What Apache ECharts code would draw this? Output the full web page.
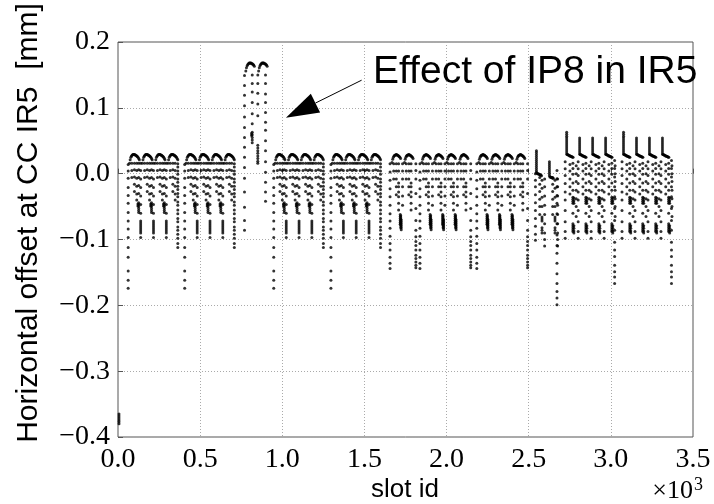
<!DOCTYPE html>
<html><head><meta charset="utf-8">
<script src="https://cdn.jsdelivr.net/npm/echarts@6/dist/echarts.min.js"></script>
<style>html,body{margin:0;padding:0;background:#fff}#c{width:714px;height:504px}</style>
</head><body><div id="c"></div>
<script>
// ================= DATA (x = slot id, y = horizontal offset in mm) =================
const xTicks = [0, 500, 1000, 1500, 2000, 2500, 3000, 3500];
const xTickLabels = ['0.0', '0.5', '1.0', '1.5', '2.0', '2.5', '3.0', '3.5'];
const yTicks = [-0.4, -0.3, -0.2, -0.1, 0.0, 0.1, 0.2];
const yTickLabels = ['\u22120.4', '\u22120.3', '\u22120.2', '\u22120.1', '0.0', '0.1', '0.2'];

// isolated pilot bunch near slot 0
const pilotSlot = [6];
const pilotOffsets = [-0.365, -0.368, -0.371, -0.374, -0.377, -0.380];

// --- standard 4-batch trains (top at +0.028, lead column down to -0.175) ---
const stdTrainLead = [62, 406, 948, 1296];
const stdTrainBatches = [4, 4, 4, 4];
const stdBatchSpacing = 78;
const stdCapOffset = 8;
const stdTailDx = 60;
const stdLead = [0.014, 0.004, -0.007, -0.021, -0.033, -0.045, -0.059, -0.072, -0.084, -0.097, -0.112, -0.127, -0.148, -0.162, -0.174];
const stdCap = [0.016, 0.021, 0.025, 0.027, 0.028, 0.029, 0.029, 0.029, 0.029, 0.028, 0.028, 0.027, 0.026, 0.025, 0.023, 0.021];
const stdInner = [
  [14, [0.016, 0.005, -0.006]],
  [30, [0.016, 0.006, -0.005, -0.016, -0.027]],
  [44, [0.016, 0.005, -0.007, -0.019, -0.031, -0.040]]
];
const stdGap = [
  [56, [0.016, 0.006, -0.006, -0.018, -0.030, -0.044, -0.047, -0.050, -0.053, -0.056, -0.059]],
  [51, [-0.046, -0.049]],
  [68, [0.016, 0.005, -0.008, -0.021, -0.034, -0.047, -0.060, -0.072, -0.075, -0.078, -0.081, -0.084, -0.087, -0.090, -0.097]]
];
const stdTail = [0.015, 0.010, 0.004, -0.001, -0.008, -0.013, -0.019, -0.024, -0.030, -0.035, -0.043, -0.048, -0.055, -0.061, -0.068, -0.073, -0.081, -0.086, -0.092, -0.098, -0.106, -0.112];

// --- train shifted by IP8 (top at +0.168) ---
const ip8TrainLead = [770];
const ip8TrainBatches = [2];
const ip8BatchSpacing = 78;
const ip8CapOffset = 8;
const ip8TailDx = 42;
const ip8Lead = [0.149, 0.134, 0.119, 0.103, 0.086, 0.070, 0.055, 0.040, 0.025, 0.0095, -0.007, -0.028, -0.051, -0.071, -0.086];
const ip8Cap = [0.156, 0.161, 0.164, 0.166, 0.167, 0.168, 0.168, 0.168, 0.168, 0.167, 0.167, 0.166, 0.165, 0.163];
const ip8Gap = [
  [39, [0.150, 0.137, 0.124, 0.108, 0.091, 0.076, 0.063, 0.059, 0.055, 0.051, 0.047]],
  [35, [0.061, 0.058]],
  [73, [0.150, 0.137, 0.122, 0.106, 0.088, 0.043, 0.039, 0.035, 0.031, 0.027, 0.023, 0.019, 0.016]]
];
const ip8Tail = [0.150, 0.137, 0.121, 0.108, 0.093, 0.078, 0.066, 0.050, 0.035, 0.018, 0.002, -0.013, -0.028, -0.042];

// --- middle trains (blobs near -0.075, both ends down to -0.144) ---
const midTrainLead = [1656, 1838, 2184];
const midTrainBatches = [2, 4, 4];
const midBatchSpacing = 76;
const midCapOffset = 12;
const midTailDx = 69;
const midLead = [0.015, 0.0024, -0.010, -0.023, -0.035, -0.048, -0.061, -0.072, -0.083, -0.095, -0.106, -0.116, -0.127, -0.136, -0.144];
const midCap = [0.017, 0.022, 0.025, 0.027, 0.028, 0.028, 0.029, 0.029, 0.028, 0.028, 0.027, 0.026, 0.025, 0.023];
const midInner = [
  [10, [0.015, 0.004, -0.008]],
  [26, [0.015, 0.004, -0.008, -0.020, -0.032]],
  [40, [0.015, 0.004, -0.014, -0.020, -0.028, -0.035, -0.045, -0.055]]
];
const midGap = [
  [50, [-0.062, -0.065, -0.068, -0.071, -0.074, -0.077]],
  [53, [-0.064, -0.067, -0.070, -0.073, -0.076, -0.079, -0.082]],
  [56, [-0.070, -0.073, -0.076, -0.079, -0.082, -0.085]],
  [64, [0.015, 0.004, -0.008, -0.020, -0.034, -0.048]]
];
const midTail = [0.015, 0.005, -0.008, -0.030, -0.053, -0.071, -0.086, -0.096, -0.103, -0.109, -0.116, -0.124, -0.129, -0.134, -0.139, -0.143];

// --- short train before the last trains (small L shapes, deep end to -0.2) ---
const shortTrainLead = [2541];
const shortTrainBatches = [2];
const shortBatchSpacing = 79;
const shortCapOffset = 6;
const shortTailDx = 46;
const shortLead = [0.000, -0.010, -0.020, -0.032, -0.044, -0.056, -0.068, -0.080, -0.092, -0.101];
const shortStemFirst = [0.035, 0.032, 0.029, 0.026, 0.023, 0.020, 0.017, 0.014, 0.011, 0.008, 0.005, 0.002];
const shortStem = [0.018, 0.015, 0.012, 0.009, 0.006, 0.003, 0.000, -0.003];
const shortFootFirst = [0.001, 0.000, 0.000, -0.001, -0.001, -0.002, -0.002, -0.003];
const shortFoot = [-0.005, -0.005, -0.006, -0.006, -0.007, -0.007];
const shortInner = [
  [20, [-0.006, -0.016, -0.027, -0.039, -0.050, -0.062]],
  [34, [-0.010, -0.022, -0.036, -0.050, -0.066, -0.069, -0.072, -0.082, -0.086, -0.090]],
  [50, [-0.008, -0.020, -0.034, -0.048, -0.062, -0.076, -0.090, -0.100, -0.110]]
];
const shortTail = [0.005, -0.0076, -0.020, -0.033, -0.045, -0.061, -0.076, -0.093, -0.109, -0.121, -0.136, -0.152, -0.167, -0.179, -0.189, -0.199];

// --- last trains (tall L shapes up to +0.063, deep end column to -0.17) ---
const lastTrainLead = [2722, 3068];
const lastTrainBatches = [4, 4];
const lastBatchSpacing = 79;
const lastCapOffset = 9;
const lastTailDx = 55;
const lastStemFirst = [0.063, 0.060, 0.057, 0.054, 0.051, 0.048, 0.045, 0.042, 0.039, 0.036, 0.033, 0.030];
const lastStem = [0.054, 0.051, 0.048, 0.045, 0.042, 0.039, 0.036, 0.033, 0.030];
const lastFoot = [0.029, 0.029, 0.028, 0.028, 0.027, 0.027, 0.026, 0.026, 0.025, 0.025];
const lastInner = [
  [-9, [0.018, 0.0076, -0.0026, -0.015, -0.028, -0.040, -0.056, -0.073, -0.088, -0.098]],
  [20, [0.014, 0.004, -0.008, -0.020, -0.031]],
  [38, [0.016, 0.008, -0.001, -0.014, -0.025, -0.036, -0.039, -0.042, -0.045, -0.060, -0.076, -0.079, -0.082, -0.085, -0.088]],
  [44, [-0.037, -0.041, -0.045, -0.079, -0.083, -0.087, -0.090]],
  [58, [0.012, 0.000, -0.012, -0.025, -0.038, -0.050, -0.065]]
];
const lastTail = [0.020, 0.008, -0.005, -0.020, -0.035, -0.053, -0.071, -0.086, -0.104, -0.116, -0.126, -0.139, -0.149, -0.157, -0.167];

// annotation (data coordinates)
const annotationText = 'Effect of IP8 in IR5';
const arrowTip = [1022, 0.085];
const arrowTail = [1483, 0.142];
const annotationAnchor = [1552, 0.1245];

// ================= BUILD POINTS =================
const points = [];
pilotSlot.forEach(s => pilotOffsets.forEach(y => points.push([s, y])));

function addTrains(leads, batches, t) {
  leads.forEach((lead, ti) => {
    const nb = batches[ti];
    (t.lead || []).forEach(y => points.push([lead, y]));
    const c0 = lead + t.capOffset;
    for (let k = 0; k < nb; k++) {
      const c = c0 + k * t.spacing;
      const cap = (k === 0 && t.capFirst) ? t.capFirst : t.cap;
      cap.forEach((y, i) => points.push([c + t.capStart + i * 4, y]));
      const stem = (k === 0 && t.stemFirst) ? t.stemFirst : t.stem;
      (stem || []).forEach(y => points.push([c, y]));
      (t.inner || []).forEach(([dx, ys]) => ys.forEach(y => points.push([c + dx, y])));
      if (k < nb - 1) (t.gap || []).forEach(([dx, ys]) => ys.forEach(y => points.push([c + dx, y])));
    }
    const tailSlot = c0 + (nb - 1) * t.spacing + t.tailDx;
    t.tail.forEach(y => points.push([tailSlot, y]));
  });
}

addTrains(stdTrainLead, stdTrainBatches, {lead: stdLead, capOffset: stdCapOffset, spacing: stdBatchSpacing, capStart: 0, cap: stdCap, inner: stdInner, gap: stdGap, tailDx: stdTailDx, tail: stdTail});
addTrains(ip8TrainLead, ip8TrainBatches, {lead: ip8Lead, capOffset: ip8CapOffset, spacing: ip8BatchSpacing, capStart: 0, cap: ip8Cap, inner: [], gap: ip8Gap, tailDx: ip8TailDx, tail: ip8Tail});
addTrains(midTrainLead, midTrainBatches, {lead: midLead, capOffset: midCapOffset, spacing: midBatchSpacing, capStart: 0, cap: midCap, inner: midInner, gap: midGap, tailDx: midTailDx, tail: midTail});
addTrains(shortTrainLead, shortTrainBatches, {lead: shortLead, capOffset: shortCapOffset, spacing: shortBatchSpacing, capStart: 3, cap: shortFoot, capFirst: shortFootFirst, stem: shortStem, stemFirst: shortStemFirst, inner: shortInner, gap: [], tailDx: shortTailDx, tail: shortTail});
addTrains(lastTrainLead, lastTrainBatches, {lead: [], capOffset: lastCapOffset, spacing: lastBatchSpacing, capStart: 3, cap: lastFoot, stem: lastStem, stemFirst: lastStemFirst, inner: lastInner, gap: [], tailDx: lastTailDx, tail: lastTail});

// ================= CHART =================
const chart = echarts.init(document.getElementById('c'), null, {renderer: 'canvas'});
const tickFont = {fontFamily: 'Liberation Serif', fontSize: 28, color: '#000'};
const gridLine = {show: true, lineStyle: {color: '#aaaaaa', type: [1, 2], width: 1}};

chart.setOption({
  animation: false,
  backgroundColor: '#fff',
  grid: {left: 118, right: 21, top: 42, bottom: 67, show: true, borderColor: '#555', borderWidth: 1},
  xAxis: {
    type: 'value', min: 0, max: 3500, interval: 500,
    axisLine: {show: false},
    axisTick: {show: true, inside: true, length: 5, lineStyle: {color: '#555'}},
    axisLabel: Object.assign({margin: 9, formatter: v => xTickLabels[xTicks.indexOf(v)]}, tickFont),
    splitLine: gridLine
  },
  yAxis: {
    type: 'value', min: -0.4, max: 0.2, interval: 0.1,
    axisLine: {show: false},
    axisTick: {show: true, inside: true, length: 5, lineStyle: {color: '#555'}},
    axisLabel: Object.assign({margin: 8, formatter: v => {
      const i = yTicks.findIndex(t => Math.abs(t - v) < 1e-9);
      return i >= 0 ? yTickLabels[i] : '';
    }}, tickFont),
    splitLine: gridLine
  },
  series: [{
    type: 'scatter', data: points, symbol: 'circle', symbolSize: 3,
    itemStyle: {color: '#000'}, silent: true, progressive: 0, large: false
  }]
});

const tip = chart.convertToPixel({gridIndex: 0}, arrowTip);
const tail = chart.convertToPixel({gridIndex: 0}, arrowTail);
const anchor = chart.convertToPixel({gridIndex: 0}, annotationAnchor);
const dx = tail[0] - tip[0], dy = tail[1] - tip[1];
const len = Math.sqrt(dx * dx + dy * dy);
const ux = dx / len, uy = dy / len;
const headLen = 33, headHalf = 10.5;
const bx = tip[0] + ux * headLen, by = tip[1] + uy * headLen;
const nx = -uy, ny = ux;

chart.setOption({
  graphic: [
    {type: 'line', shape: {x1: tail[0], y1: tail[1], x2: bx, y2: by}, style: {stroke: '#000', lineWidth: 1}, silent: true},
    {type: 'polygon', shape: {points: [[tip[0], tip[1]], [bx + nx * headHalf, by + ny * headHalf], [bx - nx * headHalf, by - ny * headHalf]]}, style: {fill: '#000'}, silent: true},
    {type: 'text', x: anchor[0], y: anchor[1], style: {text: annotationText, font: '39px "Liberation Sans"', fill: '#000', align: 'left', verticalAlign: 'bottom', textAlign: 'left', textVerticalAlign: 'bottom'}, silent: true},
    {type: 'text', x: 405, y: 490, style: {text: 'slot id', font: '26px "Liberation Sans"', fill: '#000', align: 'center', verticalAlign: 'middle', textAlign: 'center', textVerticalAlign: 'middle'}, silent: true},
    {type: 'text', x: 29, y: 223, rotation: Math.PI / 2, style: {text: 'Horizontal offset at CC IR5  [mm]', font: '30px "Liberation Sans"', fill: '#000', align: 'center', verticalAlign: 'middle', textAlign: 'center', textVerticalAlign: 'middle'}, silent: true},
    {type: 'text', x: 693, y: 504, style: {text: '\u00d710', font: '26px "Liberation Serif"', fill: '#000', align: 'right', verticalAlign: 'bottom', textAlign: 'right', textVerticalAlign: 'bottom'}, silent: true},
    {type: 'text', x: 694, y: 494, style: {text: '3', font: '18px "Liberation Serif"', fill: '#000', align: 'left', verticalAlign: 'bottom', textAlign: 'left', textVerticalAlign: 'bottom'}, silent: true}
  ]
});
</script></body></html>
